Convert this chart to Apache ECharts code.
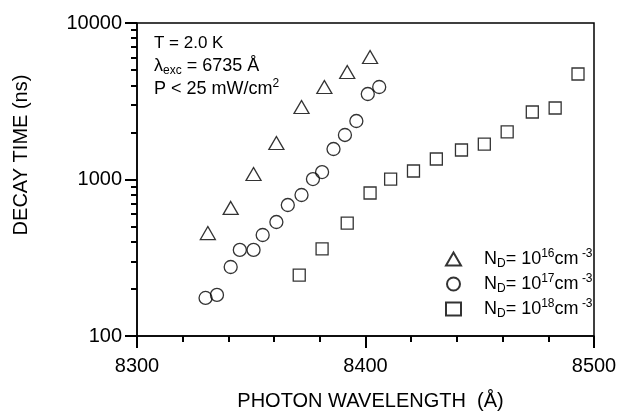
<!DOCTYPE html>
<html>
<head>
<meta charset="utf-8">
<title>Decay time vs photon wavelength</title>
<script src="https://cdn.jsdelivr.net/npm/echarts@6/dist/echarts.min.js"></script>
<style>
  html, body { margin: 0; padding: 0; background: #fff; }
  #chart { width: 629px; height: 412px; }
</style>
</head>
<body>
<div id="chart"></div>
<script>
var FONT = '"Liberation Sans", Arial, Helvetica, sans-serif';

// wavelength (Angstrom) and decay time (ns)
var wl16 = [8331, 8341, 8351, 8361, 8372, 8382, 8392, 8402];
var tau16 = [455, 658, 1084, 1711, 2906, 3900, 4864, 6063];

var wl17 = [8330, 8335, 8341, 8345, 8351, 8355, 8361, 8366, 8372, 8377, 8381, 8386, 8391, 8396, 8401, 8406];
var tau17 = [175, 183, 276, 355, 355, 442, 535, 687, 796, 1007, 1116, 1566, 1925, 2364, 3517, 3900];

var wl18 = [8371, 8381, 8392, 8402, 8411, 8421, 8431, 8442, 8452, 8462, 8473, 8483, 8493];
var tau18 = [245, 360, 527, 820, 1007, 1133, 1352, 1543, 1685, 2013, 2699, 2863, 4722];

var seriesNames = ['ND16', 'ND17', 'ND18'];
var exponents = ['16', '17', '18'];

function pairs(xs, ys) {
  return xs.map(function (x, i) { return [x, ys[i]]; });
}

function scatter(name, symbol, size, xs, ys) {
  return {
    name: name,
    type: 'scatter',
    symbol: symbol,
    symbolSize: size,
    itemStyle: {
      color: 'rgba(0,0,0,0)',
      borderColor: '#000',
      borderWidth: 1.3
    },
    emphasis: { disabled: true },
    data: pairs(xs, ys)
  };
}

function plain(value) {
  return String(value);
}

function tickStyle() {
  return { color: '#000', width: 2 };
}

var chart = echarts.init(document.getElementById('chart'));

chart.setOption({
  animation: false,
  textStyle: { fontFamily: FONT, color: '#000' },
  grid: {
    left: 137,
    right: 35,
    top: 23,
    bottom: 76,
    containLabel: false,
    outerBoundsMode: 'none',
    show: true,
    borderColor: '#000',
    borderWidth: 1.5
  },
  legend: {
    orient: 'vertical',
    left: 445,
    top: 248,
    padding: 0,
    itemWidth: 15,
    itemHeight: 13,
    itemGap: 3,
    selectedMode: false,
    data: seriesNames,
    formatter: function (name) {
      var exp = exponents[seriesNames.indexOf(name)];
      return '{n|N}{sub|D}{n|= 10}{sup|' + exp + '}{n|cm}{sup| -3}';
    },
    textStyle: {
      padding: [0, 0, 0, 18],
      rich: {
        n: { fontSize: 18, lineHeight: 22, fontFamily: FONT, color: '#000' },
        sub: { fontSize: 12, lineHeight: 12, verticalAlign: 'bottom', fontFamily: FONT, color: '#000' },
        sup: { fontSize: 12, lineHeight: 12, verticalAlign: 'top', fontFamily: FONT, color: '#000' }
      }
    }
  },
  xAxis: {
    type: 'value',
    min: 8300,
    max: 8500,
    interval: 100,
    name: 'PHOTON WAVELENGTH  (\u00c5)',
    nameLocation: 'middle',
    nameGap: 55,
    nameTextStyle: { fontSize: 20, fontFamily: FONT, color: '#000', padding: [0, 0, 0, 10] },
    axisLine: { show: true, lineStyle: { color: '#000', width: 1.5 } },
    axisTick: { show: true, inside: false, length: 12, lineStyle: tickStyle() },
    minorTick: { show: true, splitNumber: 5, length: 6, lineStyle: tickStyle() },
    splitLine: { show: false },
    axisLabel: { fontSize: 20, margin: 20, color: '#000', fontFamily: FONT, formatter: plain }
  },
  yAxis: {
    type: 'log',
    min: 100,
    max: 10000,
    position: 'left',
    axisLine: { show: true, lineStyle: { color: '#000', width: 1.5 } },
    axisTick: { show: true, inside: false, length: 12, lineStyle: tickStyle() },
    // 9 linear parts per decade -> ticks at 2..9 x 10^n
    minorTick: { show: true, splitNumber: 9, length: 6, lineStyle: tickStyle() },
    splitLine: { show: false },
    axisLabel: { fontSize: 20, margin: 15, color: '#000', fontFamily: FONT, formatter: plain }
  },
  graphic: [
    {
      type: 'text',
      x: 21,
      y: 155,
      rotation: Math.PI / 2,
      style: {
        text: 'DECAY TIME (ns)',
        font: '20px ' + FONT,
        fill: '#000',
        align: 'center',
        verticalAlign: 'middle',
        textAlign: 'center',
        textVerticalAlign: 'middle'
      }
    },
    {
      type: 'text',
      x: 154,
      y: 43,
      style: {
        text: 'T = 2.0 K',
        font: '17px ' + FONT,
        fill: '#000',
        verticalAlign: 'middle',
        textVerticalAlign: 'middle'
      }
    },
    {
      type: 'text',
      x: 154,
      y: 66,
      style: {
        text: '{a|\u03bb}{s|exc}{a| = 6735 \u00c5}',
        font: '18px ' + FONT,
        fill: '#000',
        verticalAlign: 'middle',
        textVerticalAlign: 'middle',
        rich: {
          a: { fontSize: 18, lineHeight: 22, fontFamily: FONT, color: '#000' },
          s: { fontSize: 12, lineHeight: 12, verticalAlign: 'bottom', fontFamily: FONT, color: '#000' }
        }
      }
    },
    {
      type: 'text',
      x: 154,
      y: 89,
      style: {
        text: '{a|P < 25 mW/cm}{s|2}',
        font: '18px ' + FONT,
        fill: '#000',
        verticalAlign: 'middle',
        textVerticalAlign: 'middle',
        rich: {
          a: { fontSize: 18, lineHeight: 22, fontFamily: FONT, color: '#000' },
          s: { fontSize: 12, lineHeight: 12, verticalAlign: 'top', fontFamily: FONT, color: '#000' }
        }
      }
    }
  ],
  series: [
    scatter('ND16', 'triangle', [15, 13], wl16, tau16),
    scatter('ND17', 'circle', 13, wl17, tau17),
    scatter('ND18', 'rect', 12, wl18, tau18)
  ]
});

window.addEventListener('resize', function () {
  chart.resize();
});
</script>
</body>
</html>
